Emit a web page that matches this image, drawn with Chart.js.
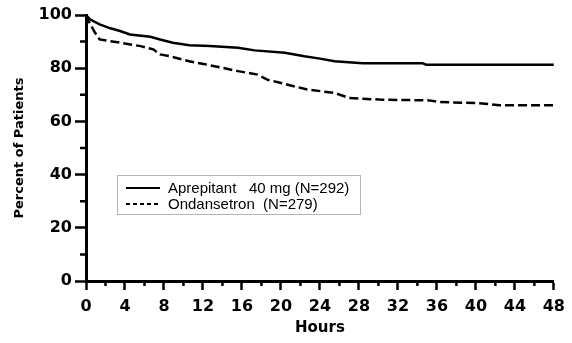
<!DOCTYPE html>
<html>
<head>
<meta charset="utf-8">
<title>Percent of Patients by Hours</title>
<script src="https://cdn.jsdelivr.net/npm/chart.js@4/dist/chart.umd.min.js"></script>
<style>
    body { margin: 0; background: #fff; }
    canvas { display: block; }
</style>
</head>
<body>
<canvas id="kmChart" width="572" height="343"></canvas>
<script>
// time (hours) and percent of patients for each arm
const aprepitantHours = [0, 0.4, 1.4, 2.5, 3.5, 4.5, 6.6, 7.6, 8.9, 10.6, 12.7, 15.6, 17.3, 20.4, 22.4, 24, 25.5, 28.4, 34.5, 34.9, 48]
const aprepitantPct = [100, 98.4, 96.5, 95, 94, 92.7, 91.8, 90.8, 89.6, 88.6, 88.3, 87.7, 86.7, 85.8, 84.5, 83.6, 82.6, 81.9, 81.9, 81.3, 81.3]

const ondansetronHours = [0, 0.3, 0.9, 1.4, 3.5, 5.6, 6.9, 7.6, 8.6, 10.6, 12.2, 15.6, 17.6, 18.6, 20.7, 22.7, 25.5, 27, 30.1, 35.2, 36.2, 40.1, 42.4, 48]
const ondansetronPct = [100, 97.5, 93.5, 90.8, 89.6, 88.3, 87.1, 85.2, 84.5, 82.6, 81.5, 78.9, 77.6, 75.7, 73.8, 72, 70.7, 68.8, 68.2, 67.9, 67.3, 66.9, 66.1, 66.1]

const seriesLabels = ['Aprepitant   40 mg (N=292)', 'Ondansetron  (N=279)']

const xTickStep = 2     // minor every 2 h, labelled every 4 h
const yTickStep = 10    // minor every 10 %, labelled every 20 %

const tickFont = { family: 'DejaVu Sans', weight: 'bold', size: 16 }

function toPoints(xs, ys) {
    return xs.map((x, i) => ({ x: x, y: ys[i] }))
}

/**
 * @name minorTicks
 * @description Short unlabelled ticks between the labelled ones.
 */
const minorTicks = {
    id: 'minorTicks',
    afterDraw(chart) {
        const ctx = chart.ctx
        const xs = chart.scales.x
        const ys = chart.scales.y
        ctx.save()
        ctx.strokeStyle = '#000'
        ctx.lineWidth = 2.5
        ctx.beginPath()
        xs.ticks.forEach(t => {
            if (t.value % 4 === 0) return
            const px = xs.getPixelForValue(t.value)
            ctx.moveTo(px, xs.top)
            ctx.lineTo(px, xs.top + 5)
        })
        ys.ticks.forEach(t => {
            if (t.value % 20 === 0) return
            const py = ys.getPixelForValue(t.value)
            ctx.moveTo(ys.right, py)
            ctx.lineTo(ys.right - 6, py)
        })
        ctx.stroke()
        ctx.restore()
    },
}

/**
 * @name boxLegend
 * @description Framed legend sitting inside the plot area.
 */
const boxLegend = {
    id: 'boxLegend',
    afterDraw(chart) {
        const ctx = chart.ctx
        const box = { left: 117, top: 175, width: 243, height: 39 }
        ctx.save()
        ctx.fillStyle = '#fff'
        ctx.fillRect(box.left, box.top, box.width, box.height)
        ctx.strokeStyle = '#b4b4b4'
        ctx.lineWidth = 1
        ctx.strokeRect(box.left + 0.5, box.top + 0.5, box.width, box.height)

        ctx.font = '15px "Liberation Sans"'
        ctx.textBaseline = 'middle'
        ctx.fillStyle = '#000'
        chart.data.datasets.forEach((ds, i) => {
            const y = box.top + 13 + i * 16
            ctx.beginPath()
            ctx.lineWidth = 2
            ctx.strokeStyle = '#000'
            ctx.setLineDash(ds.borderDash ? [4, 3] : [])
            ctx.moveTo(box.left + 9, y)
            ctx.lineTo(box.left + 43, y)
            ctx.stroke()
            ctx.setLineDash([])
            ctx.fillText(ds.label, box.left + 51, y + 1)
        })
        ctx.restore()
    },
}

const ctx = document.getElementById('kmChart').getContext('2d')
const kmChart = new Chart(ctx, {
    type: 'line',
    data: {
        datasets: [
            {
                label: seriesLabels[0],
                data: toPoints(aprepitantHours, aprepitantPct),
                borderColor: '#000',
                borderWidth: 2.5,
                pointRadius: 0,
                tension: 0,
            },
            {
                label: seriesLabels[1],
                data: toPoints(ondansetronHours, ondansetronPct),
                borderColor: '#000',
                borderWidth: 2.5,
                borderDash: [9, 4],
                pointRadius: 0,
                tension: 0,
            },
        ],
    },
    options: {
        responsive: false,
        animation: false,
        devicePixelRatio: 1,
        layout: { padding: { left: 0, top: 15, right: 18, bottom: 0 } },
        plugins: {
            legend: { display: false },
            tooltip: { enabled: false },
        },
        scales: {
            x: {
                type: 'linear',
                min: 0,
                max: 48,
                afterFit: s => { s.height = 62 },
                border: { color: '#000', width: 3 },
                grid: {
                    drawOnChartArea: false,
                    tickLength: 9,
                    tickWidth: 2.5,
                    tickColor: c => (c.tick && c.tick.value % 4 === 0 ? '#000' : 'rgba(0,0,0,0)'),
                },
                ticks: {
                    stepSize: xTickStep,
                    autoSkip: false,
                    maxRotation: 0,
                    padding: 7,
                    color: '#000',
                    font: tickFont,
                    callback: v => (v % 4 === 0 ? v : ''),
                },
                title: {
                    display: true,
                    text: 'Hours',
                    color: '#000',
                    font: { family: 'DejaVu Sans', weight: 'bold', size: 15 },
                    padding: { top: 0, bottom: 6 },
                },
            },
            y: {
                min: 0,
                max: 100,
                afterFit: s => { s.width = 86 },
                border: { color: '#000', width: 3 },
                grid: {
                    drawOnChartArea: false,
                    tickLength: 11,
                    tickWidth: 2.5,
                    tickColor: c => (c.tick && c.tick.value % 20 === 0 ? '#000' : 'rgba(0,0,0,0)'),
                },
                ticks: {
                    stepSize: yTickStep,
                    autoSkip: false,
                    padding: 3,
                    color: '#000',
                    font: tickFont,
                    callback: v => (v % 20 === 0 ? v : ''),
                },
                title: {
                    display: true,
                    text: 'Percent of Patients',
                    color: '#000',
                    font: { family: 'DejaVu Sans', weight: 'bold', size: 13 },
                    padding: { top: 12, bottom: 0 },
                },
            },
        },
    },
    plugins: [minorTicks, boxLegend],
})
</script>
</body>
</html>
